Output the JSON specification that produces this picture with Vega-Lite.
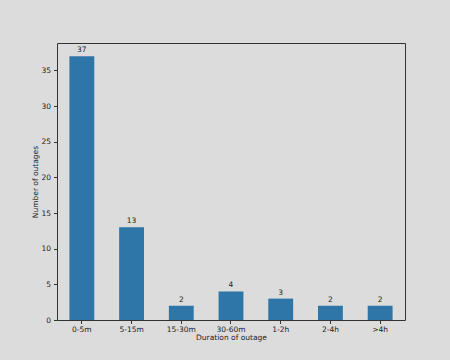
{
  "$schema": "https://vega.github.io/schema/vega-lite/v6.json",
  "autosize": "none",
  "width": 348,
  "height": 277,
  "padding": {"left": 57, "top": 43, "right": 45, "bottom": 40},
  "background": "#dcdcdc",
  "config": {
    "view": {"stroke": "#333333", "strokeWidth": 1, "fill": "#dcdcdc"},
    "font": "DejaVu Sans",
    "axis": {
      "domain": false,
      "grid": false,
      "labelFont": "DejaVu Sans",
      "labelFontSize": 7.5,
      "labelColor": "#222222",
      "titleFont": "DejaVu Sans",
      "titleFontSize": 7.5,
      "titleFontWeight": "normal",
      "titleColor": "#222222",
      "tickColor": "#333333",
      "tickSize": 3.5,
      "labelPadding": 3
    }
  },
  "data": {
    "values": [
      {"duration": "0-5m", "count": 37},
      {"duration": "5-15m", "count": 13},
      {"duration": "15-30m", "count": 2},
      {"duration": "30-60m", "count": 4},
      {"duration": "1-2h", "count": 3},
      {"duration": "2-4h", "count": 2},
      {"duration": ">4h", "count": 2}
    ]
  },
  "encoding": {
    "x": {
      "field": "duration",
      "type": "nominal",
      "sort": null,
      "scale": {"paddingInner": 0.5, "paddingOuter": 0.25},
      "axis": {"title": "Duration of outage", "labelAngle": 0, "titlePadding": 0, "labelPadding": 2}
    },
    "y": {
      "field": "count",
      "type": "quantitative",
      "scale": {"domain": [0, 38.85], "nice": false},
      "axis": {"title": "Number of outages", "values": [0, 5, 10, 15, 20, 25, 30, 35], "titlePadding": 1}
    }
  },
  "layer": [
    {"mark": {"type": "bar", "color": "#2e75a8"}},
    {
      "mark": {"type": "text", "dy": -6, "fontSize": 7.5, "color": "#222222", "font": "DejaVu Sans"},
      "encoding": {"text": {"field": "count", "type": "quantitative"}}
    }
  ]
}
